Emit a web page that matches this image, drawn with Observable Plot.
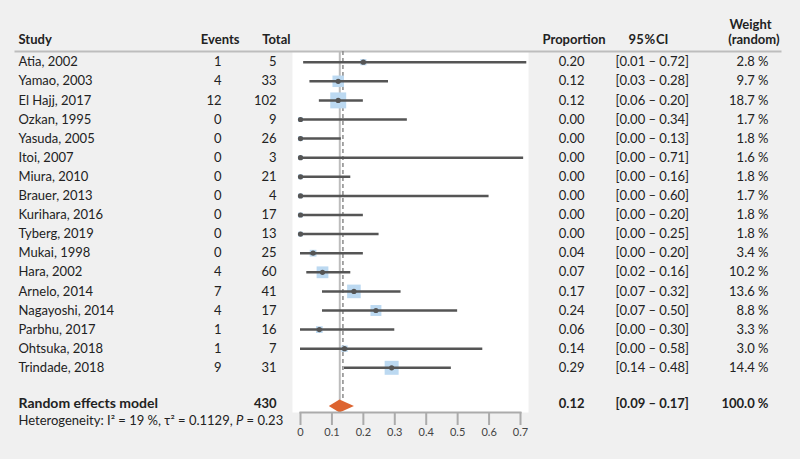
<!DOCTYPE html>
<html><head><meta charset="utf-8">
<script src="https://cdn.jsdelivr.net/npm/d3@7"></script>
<script src="https://cdn.jsdelivr.net/npm/@observablehq/plot@0.6"></script>
<style>
html,body{margin:0;padding:0;background:#f0f0f0;}
#chart{width:800px;height:459px;}
</style></head>
<body><div id="chart"></div>
<script>
const studies = ["Atia, 2002","Yamao, 2003","El Hajj, 2017","Ozkan, 1995","Yasuda, 2005","Itoi, 2007","Miura, 2010","Brauer, 2013","Kurihara, 2016","Tyberg, 2019","Mukai, 1998","Hara, 2002","Arnelo, 2014","Nagayoshi, 2014","Parbhu, 2017","Ohtsuka, 2018","Trindade, 2018"];
const events = [1,4,12,0,0,0,0,0,0,0,0,4,7,4,1,1,9];
const totals = [5,33,102,9,26,3,21,4,17,13,25,60,41,17,16,7,31];
const proportion = [0.20,0.12,0.12,0.00,0.00,0.00,0.00,0.00,0.00,0.00,0.04,0.07,0.17,0.24,0.06,0.14,0.29];
const ciLow = [0.01,0.03,0.06,0.00,0.00,0.00,0.00,0.00,0.00,0.00,0.00,0.02,0.07,0.07,0.00,0.00,0.14];
const ciHigh = [0.72,0.28,0.20,0.34,0.13,0.71,0.16,0.60,0.20,0.25,0.20,0.16,0.32,0.50,0.30,0.58,0.48];
const weights = [2.8,9.7,18.7,1.7,1.8,1.6,1.8,1.7,1.8,1.8,3.4,10.2,13.6,8.8,3.3,3.0,14.4];

const pooledLabel = "Random effects model";
const pooledTotal = 430;
const pooledEst = 0.124;
const pooledLow = 0.09;
const pooledHigh = 0.17;
const pooledWeight = 100.0;
const commonLine = 0.125;
const randomLine = 0.135;
const hetI2 = "19 %";
const hetTau2 = "0.1129";
const hetP = "0.23";
const tickValues = [0,0.1,0.2,0.3,0.4,0.5,0.6,0.7];

const fmt2 = d3.format(".2f");
const rows = studies.map((s,i)=>({i, study:s, events:events[i], total:totals[i], p:proportion[i], lo:ciLow[i], hi:ciHigh[i], w:weights[i]}));
const pRow = studies.length + 1;
const dh = 0.34;
const diamond = [
  {x:pooledLow, y:pRow},
  {x:pooledEst, y:pRow-dh},
  {x:pooledHigh, y:pRow},
  {x:pooledEst, y:pRow+dh}
];
const pooled = [{i:pRow}];
const ciText = (lo,hi)=>`[${fmt2(lo)} \u2013 ${fmt2(hi)}]`;
const wText = w => `${w.toFixed(1)} %`;
const txt = "#222";
const FS = 13;
const hdr = (label, anchor, dx, dy, ta) => Plot.text([label], {frameAnchor:anchor, dx, dy, text:d=>d, textAnchor:ta, lineAnchor:"middle", fontWeight:"bold", fill:txt, fontSize:FS});
const pooledText = (anchor, dx, fn, ta, fs=FS) => Plot.text(pooled, {y:"i", frameAnchor:anchor, dx, dy:-2, text:fn, textAnchor:ta, fontWeight:"bold", fill:txt, fontSize:fs});

const plot = Plot.plot({
  width: 800, height: 459,
  marginLeft: 300, marginRight: 280, marginTop: 51, marginBottom: 47,
  x: {domain:[0,0.7], label:null},
  y: {domain:[0,pRow], range:[61.7,405.5], axis:null},
  r: {type:"sqrt", domain:[0,18.7], range:[0,9.0]},
  style: {fontFamily:"Lato, 'Noto Sans', sans-serif", fontSize: FS+"px", background:"#f0f0f0", color: txt, overflow:"visible"},
  marks: [
    Plot.frame({fill:"white", stroke:null, insetLeft:-8, insetRight:-8}),
    Plot.frame({anchor:"top", stroke:"#bdbdbd", strokeWidth:2, insetLeft:-285, insetRight:-260}),
    // headers
    hdr("Study", "top-left", -282, -12, "start"),
    hdr("Events", "top-left", -61, -12, "end"),
    hdr("Total", "top-left", -10, -12, "end"),
    hdr("Proportion", "top-right", 85, -12, "end"),
    hdr("95\u200A%\u200ACI", "top-right", 128, -12, "middle"),
    hdr("Weight", "top-right", 230, -27, "middle"),
    hdr("(random)", "top-right", 259, -12, "end"),
    // study columns
    Plot.text(rows, {y:"i", frameAnchor:"left", dx:-282, text:"study", textAnchor:"start", fill:txt, fontSize:FS}),
    Plot.text(rows, {y:"i", frameAnchor:"left", dx:-79, text:d=>String(d.events), textAnchor:"end", fill:txt, fontSize:FS}),
    Plot.text(rows, {y:"i", frameAnchor:"left", dx:-24, text:d=>String(d.total), textAnchor:"end", fill:txt, fontSize:FS}),
    Plot.text(rows, {y:"i", frameAnchor:"right", dx:64, text:d=>fmt2(d.p), textAnchor:"end", fill:txt, fontSize:FS}),
    Plot.text(rows, {y:"i", frameAnchor:"right", dx:95, text:d=>ciText(d.lo,d.hi), textAnchor:"start", fill:txt, fontSize:FS}),
    Plot.text(rows, {y:"i", frameAnchor:"right", dx:248, text:d=>wText(d.w), textAnchor:"end", fill:txt, fontSize:FS}),
    // pooled row
    pooledText("left", -282, ()=>pooledLabel, "start", 14),
    pooledText("left", -24, ()=>String(pooledTotal), "end"),
    pooledText("right", 64, ()=>fmt2(pooledEst), "end"),
    pooledText("right", 95, ()=>ciText(pooledLow,pooledHigh), "start"),
    pooledText("right", 248, ()=>wText(pooledWeight), "end"),
    Plot.text(pooled, {y:d=>d.i+0.8, frameAnchor:"left", dx:-282, text:()=>`Heterogeneity: I\u00B2 = ${hetI2}, \u03C4\u00B2 = ${hetTau2}, P = ${hetP}`, textAnchor:"start", fill:txt, fontSize:FS}),
    // reference lines
    Plot.ruleX([commonLine], {stroke:"#bdbdbd", strokeWidth:2, insetBottom:12}),
    Plot.ruleX([randomLine], {stroke:"#8a8a8a", strokeWidth:1.5, strokeDasharray:"4,3", insetBottom:14}),
    // squares, CIs, dots
    Plot.dot(rows, {x:"p", y:"i", r:"w", symbol:"square", fill:"#bcd9f1", stroke:null}),
    Plot.ruleY(rows, {y:"i", x1:"lo", x2:"hi", stroke:"#555", strokeWidth:2.5}),
    Plot.dot(rows, {x:"p", y:"i", r:2.6, fill:"#555", stroke:null}),
    // diamond
    Plot.line(diamond, {x:"x", y:"y", fill:"#dd6430", stroke:null, curve:"linear-closed"}),
    // axis
    Plot.frame({anchor:"bottom", stroke:"#ababab", strokeWidth:2}),
    Plot.axisX({ticks:tickValues, tickFormat:d=>String(d), tickSize:13, tickPadding:3, stroke:"#ababab", strokeWidth:2, fill:"#444", fontSize:11, label:null})
  ]
});
document.getElementById("chart").appendChild(plot);
// italic P in heterogeneity line
plot.querySelectorAll("text").forEach(t=>{
  if (t.textContent.startsWith("Heterogeneity")) {
    const s = t.textContent;
    const k = s.lastIndexOf("P = ");
    t.textContent = "";
    const ns = "http://www.w3.org/2000/svg";
    const a = document.createElementNS(ns,"tspan"); a.textContent = s.slice(0,k);
    const b = document.createElementNS(ns,"tspan"); b.textContent = "P"; b.setAttribute("font-style","italic");
    const c = document.createElementNS(ns,"tspan"); c.textContent = s.slice(k+1);
    t.append(a,b,c);
  }
});
</script></body></html>
